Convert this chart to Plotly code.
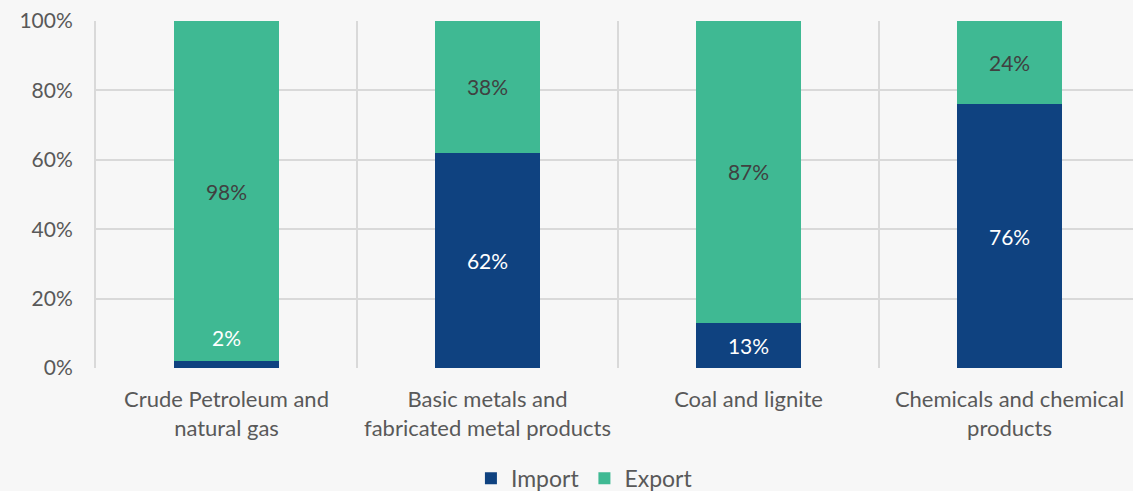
import plotly.graph_objects as go

categories = ["Crude Petroleum and<br>natural gas", "Basic metals and<br>fabricated metal products",
              "Coal and lignite", "Chemicals and chemical<br>products"]
import_share = [2, 62, 13, 76]
export_share = [98, 38, 87, 24]
y_ticks = [0, 20, 40, 60, 80, 100]

navy = "#0f4280"
green = "#3fb993"
bg = "#f7f7f7"
grid = "#d9d9d9"
font_family = "Lato, Carlito, Calibri, sans-serif"

x = list(range(len(categories)))

# the first import slice is too thin to hold its label, so it is written above
imp_text = ["" if v < 5 else f"{v}%" for v in import_share]

fig = go.Figure()
fig.add_trace(go.Bar(
    x=x, y=import_share, name="Import", marker=dict(color=navy, line_width=0),
    width=0.4, text=imp_text, textposition="inside", insidetextanchor="middle",
    textfont=dict(color="white", size=21, family=font_family), hoverinfo="skip"))
fig.add_trace(go.Bar(
    x=x, y=export_share, name="Export", marker=dict(color=green, line_width=0),
    width=0.4, text=[f"{v}%" for v in export_share], textposition="inside",
    insidetextanchor="middle", textfont=dict(color="#404040", size=21, family=font_family),
    hoverinfo="skip"))

for i, v in enumerate(import_share):
    if v < 5:
        fig.add_annotation(x=i, y=v, text=f"{v}%", showarrow=False, yanchor="bottom", yshift=9,
                           font=dict(color="white", size=21, family=font_family))

fig.update_layout(
    barmode="stack",
    width=1133, height=491,
    paper_bgcolor=bg, plot_bgcolor=bg,
    margin=dict(l=96, r=0, t=21, b=123, autoexpand=False),
    font=dict(family=font_family, size=21, color="#595959"),
    showlegend=True,
    legend=dict(orientation="h", x=0.471, xanchor="center", y=-0.318, yanchor="middle",
                font=dict(size=23, color="#595959"), itemwidth=30, traceorder="normal",
                bgcolor="rgba(0,0,0,0)"),
    xaxis=dict(range=[-0.5, 3.473], tickmode="array", tickvals=x, ticktext=categories,
               showgrid=False, zeroline=False, showline=False, ticks="", automargin=False,
               ticklabelstandoff=16,
               tickfont=dict(size=22, color="#595959"),
               minor=dict(tickmode="array", tickvals=[-0.5, 0.5, 1.5, 2.5], showgrid=True,
                          gridcolor=grid, gridwidth=2, ticks="")),
    yaxis=dict(range=[0, 100], tickmode="array", tickvals=y_ticks,
               ticktext=[f"{t}%" for t in y_ticks], showgrid=True, gridcolor=grid, gridwidth=2,
               zeroline=False, showline=True, linecolor=grid, linewidth=2, ticks="", automargin=False,
               ticklabelstandoff=17, tickfont=dict(size=21, color="#595959")),
)

fig.write_html("out.html", config={"displayModeBar": False},
               post_script="document.body.style.margin='0';document.body.style.background='%s';" % bg)
